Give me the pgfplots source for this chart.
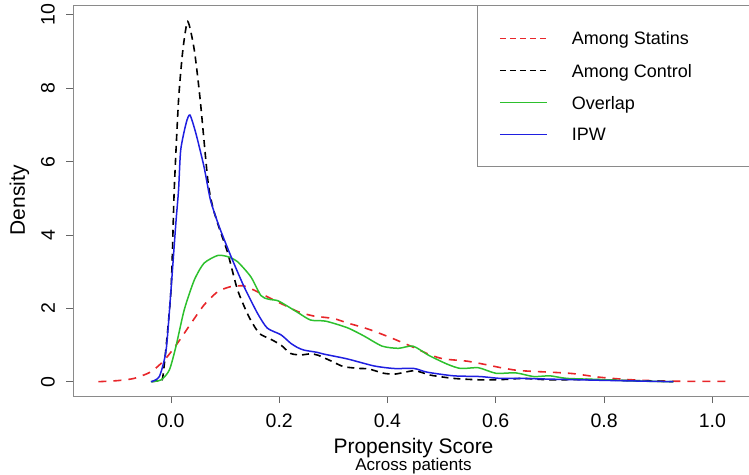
\documentclass[border=0pt]{standalone}
\usepackage{fontspec}
\setmainfont{Liberation Sans}
\usepackage{pgfplots}
\pgfplotsset{compat=1.18}
\usepackage{pgfplotstable}
\definecolor{cred}{HTML}{E8262A}
\definecolor{cgreen}{HTML}{2DC02D}
\definecolor{cblue}{HTML}{1F1FE0}
\definecolor{boxgray}{HTML}{8A8A8A}

\pgfplotstableread{
x y
-0.134 0
-0.098 0.03
-0.068 0.09
-0.037 0.27
-0.012 0.59
0.012 1.05
0.037 1.59
0.061 2.09
0.086 2.45
0.110 2.59
0.135 2.61
0.160 2.45
0.184 2.27
0.209 2.09
0.227 1.96
0.240 1.88
0.264 1.79
0.301 1.72
0.326 1.60
0.350 1.50
0.369 1.41
0.406 1.20
0.449 0.93
0.479 0.73
0.504 0.62
0.547 0.56
0.580 0.47
0.610 0.38
0.639 0.31
0.670 0.28
0.700 0.26
0.743 0.22
0.793 0.12
0.842 0.06
0.885 0.03
0.946 0.01
1.028 0.01
}\statins

\pgfplotstableread{
x y
-0.036 0
-0.025 0.03
-0.015 0.14
0.000 2.50
0.006 5.23
0.014 7.68
0.022 9.05
0.031 9.82
0.043 9.05
0.054 7.68
0.068 5.50
0.077 4.77
0.090 4.15
0.105 3.50
0.123 2.50
0.144 1.77
0.163 1.32
0.184 1.16
0.203 1.00
0.221 0.77
0.240 0.73
0.258 0.76
0.272 0.72
0.295 0.57
0.319 0.41
0.350 0.36
0.365 0.35
0.393 0.23
0.415 0.21
0.450 0.30
0.479 0.18
0.522 0.09
0.571 0.05
0.614 0.06
0.651 0.09
0.700 0.05
0.761 0.06
0.823 0.04
0.880 0.02
0.928 0
}\control

\pgfplotstableread{
x y
-0.037 0
-0.018 0.05
-0.003 0.32
0.009 0.95
0.0245 1.96
0.043 2.77
0.061 3.23
0.086 3.44
0.1045 3.41
0.123 3.27
0.1475 2.86
0.166 2.35
0.180 2.25
0.197 2.21
0.215 2.06
0.235 1.88
0.258 1.68
0.286 1.65
0.326 1.47
0.356 1.25
0.390 0.97
0.420 0.91
0.447 0.97
0.476 0.72
0.510 0.48
0.535 0.36
0.568 0.38
0.600 0.23
0.637 0.24
0.670 0.14
0.700 0.16
0.731 0.09
0.793 0.06
0.854 0.02
0.928 0
}\overlap

\pgfplotstableread{
x y
-0.037 0
-0.0215 0.14
-0.009 0.86
0.000 2.50
0.009 4.32
0.014 5.23
0.018 6.32
0.028 7.05
0.035 7.27
0.046 6.77
0.061 5.86
0.073 4.95
0.089 4.23
0.111 3.41
0.135 2.59
0.160 1.86
0.178 1.46
0.203 1.28
0.221 1.05
0.234 0.93
0.246 0.86
0.270 0.80
0.283 0.75
0.326 0.62
0.375 0.43
0.412 0.36
0.449 0.36
0.473 0.26
0.522 0.16
0.571 0.14
0.608 0.09
0.645 0.09
0.700 0.07
0.760 0.05
0.820 0.03
0.928 0
}\ipw

\begin{document}
\begin{tikzpicture}
\path[use as bounding box] (0,0) rectangle (749pt,474pt);
\begin{axis}[
  at={(73pt,78pt)}, anchor=south west,
  scale only axis, width=681pt, height=391pt,
  xmin=-0.181, xmax=1.077, ymin=-0.39, ymax=10.27,
  clip=false,
  axis line style={boxgray, line width=0.9pt},
  xtick={0,0.2,0.4,0.6,0.8,1.0},
  ytick={0,2,4,6,8,10},
  xtick pos=bottom, ytick pos=left,
  tick align=outside, major tick length=7pt,
  tick style={black!60, line width=0.9pt},
  /pgf/number format/assume math mode=true,
  xticklabel style={/pgf/number format/fixed, /pgf/number format/fixed zerofill, /pgf/number format/precision=1},
  yticklabel style={xshift=-11pt, rotate=90, anchor=south, inner sep=0pt},
  xticklabel shift=7pt,
  tick label style={font=\fontsize{19.5}{22}\selectfont},
  label style={font=\fontsize{21}{24}\selectfont},
  xlabel={Propensity Score},
  xlabel style={at={(axis description cs:0.5,0)}, anchor=base, yshift=-57pt},
  ylabel={Density},
  ylabel style={at={(axis description cs:-0.0705,0.5)}, anchor=base},
]
\addplot[cred, line width=1.6pt, dash pattern=on 8pt off 7pt, smooth, tension=0.4] table {\statins};
\addplot[black, line width=1.6pt, dash pattern=on 7pt off 5pt, smooth, tension=0.4] table {\control};
\addplot[cgreen, line width=1.5pt, smooth, tension=0.4] table {\overlap};
\addplot[cblue, line width=1.5pt, smooth, tension=0.4] table {\ipw};
% legend (drawn as in the R figure: box anchored at the top-right corner of the plot box)
\draw[boxgray, line width=0.9pt] (axis description cs:0.5932,1) rectangle (axis description cs:1,0.5864);
\draw[cred, line width=1.1pt, dash pattern=on 6pt off 4pt] (axis description cs:0.627,0.9148) -- (axis description cs:0.696,0.9148);
\draw[black, line width=1.0pt, dash pattern=on 6pt off 4pt] (axis description cs:0.627,0.8320) -- (axis description cs:0.696,0.8320);
\draw[cgreen, line width=1.1pt] (axis description cs:0.627,0.7501) -- (axis description cs:0.696,0.7501);
\draw[cblue, line width=1.1pt] (axis description cs:0.627,0.6693) -- (axis description cs:0.696,0.6693);
\begin{scope}[every node/.style={anchor=base west, inner sep=0pt, font=\fontsize{18}{20}\selectfont, yshift=-6.5pt}]
\node at (axis description cs:0.7323,0.9148) {Among Statins};
\node at (axis description cs:0.7323,0.8320) {Among Control};
\node at (axis description cs:0.7323,0.7501) {Overlap};
\node at (axis description cs:0.7323,0.6693) {IPW};
\end{scope}
\node[anchor=base, font=\fontsize{17}{18}\selectfont] at (axis description cs:0.5,0) [yshift=-74pt] {Across patients};
\end{axis}
\end{tikzpicture}
\end{document}
